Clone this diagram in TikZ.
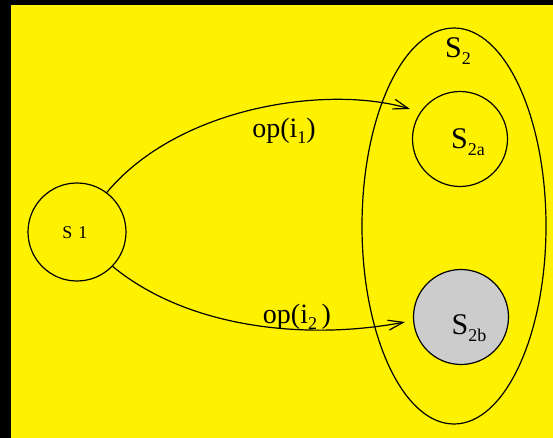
\documentclass[tikz,border=0pt]{standalone}
\usepackage{fontspec}
\setmainfont{Liberation Serif}
\usetikzlibrary{shapes.geometric,arrows.meta}
% label sizes: main letters and their lowered indices
\newcommand{\bigtxt}{\fontsize{28}{28}\selectfont}
\newcommand{\statetxt}{\fontsize{30}{30}\selectfont}
\newcommand{\lowidx}[1]{\raisebox{-0.22em}{\fontsize{18}{18}\selectfont #1}}
\begin{document}
\begin{tikzpicture}[x=1pt,y=-1pt,
  state/.style={circle,draw,line width=1.2pt,minimum size=95pt,inner sep=0pt},
  trans/.style={line width=1.2pt,-{Straight Barb[length=15pt,width=10pt,line width=1.2pt]}},
  lbl/.style={inner sep=0pt,font=\bigtxt},
  slbl/.style={inner sep=0pt,font=\statetxt}]
% background: black frame strip on top and left, yellow canvas
\fill[black] (0,0) rectangle (553,438);
\fill[yellow] (11,5) rectangle (553,438);
\useasboundingbox (0,0) rectangle (553,438);

% states
\node[ellipse,draw,line width=1.2pt,minimum width=184pt,minimum height=396pt,inner sep=0pt] (s2) at (454,226) {};
\node[state,minimum size=98pt] (s1) at (77,232) {};
\node[state] (s2a) at (460,139) {};
\node[state,fill=black!20] (s2b) at (461,317) {};

% state labels
\node[inner sep=0pt,font=\fontsize{18}{18}\selectfont] (s1lbl) at (75,233) {S\hspace{6pt}1};
\node[slbl] (s2lbl) at (458,51) {S\lowidx{2}};
\node[slbl] (s2albl) at (468,142) {S\lowidx{2a}};
\node[slbl] (s2blbl) at (469,328) {S\lowidx{2b}};

% transitions
\coordinate (tip1) at (410,109);
\coordinate (tip2) at (405,322);
\draw[trans] (s1.53) .. controls (180,105) and (330,85) .. (tip1);
\draw[trans] (s1.-44) .. controls (190,330) and (310,340) .. (tip2);
\node[lbl] (op1) at (284,131) {op(i\lowidx{1})};
\node[lbl] (op2) at (297,317) {op(i\lowidx{2}\,)};
\end{tikzpicture}
\end{document}
